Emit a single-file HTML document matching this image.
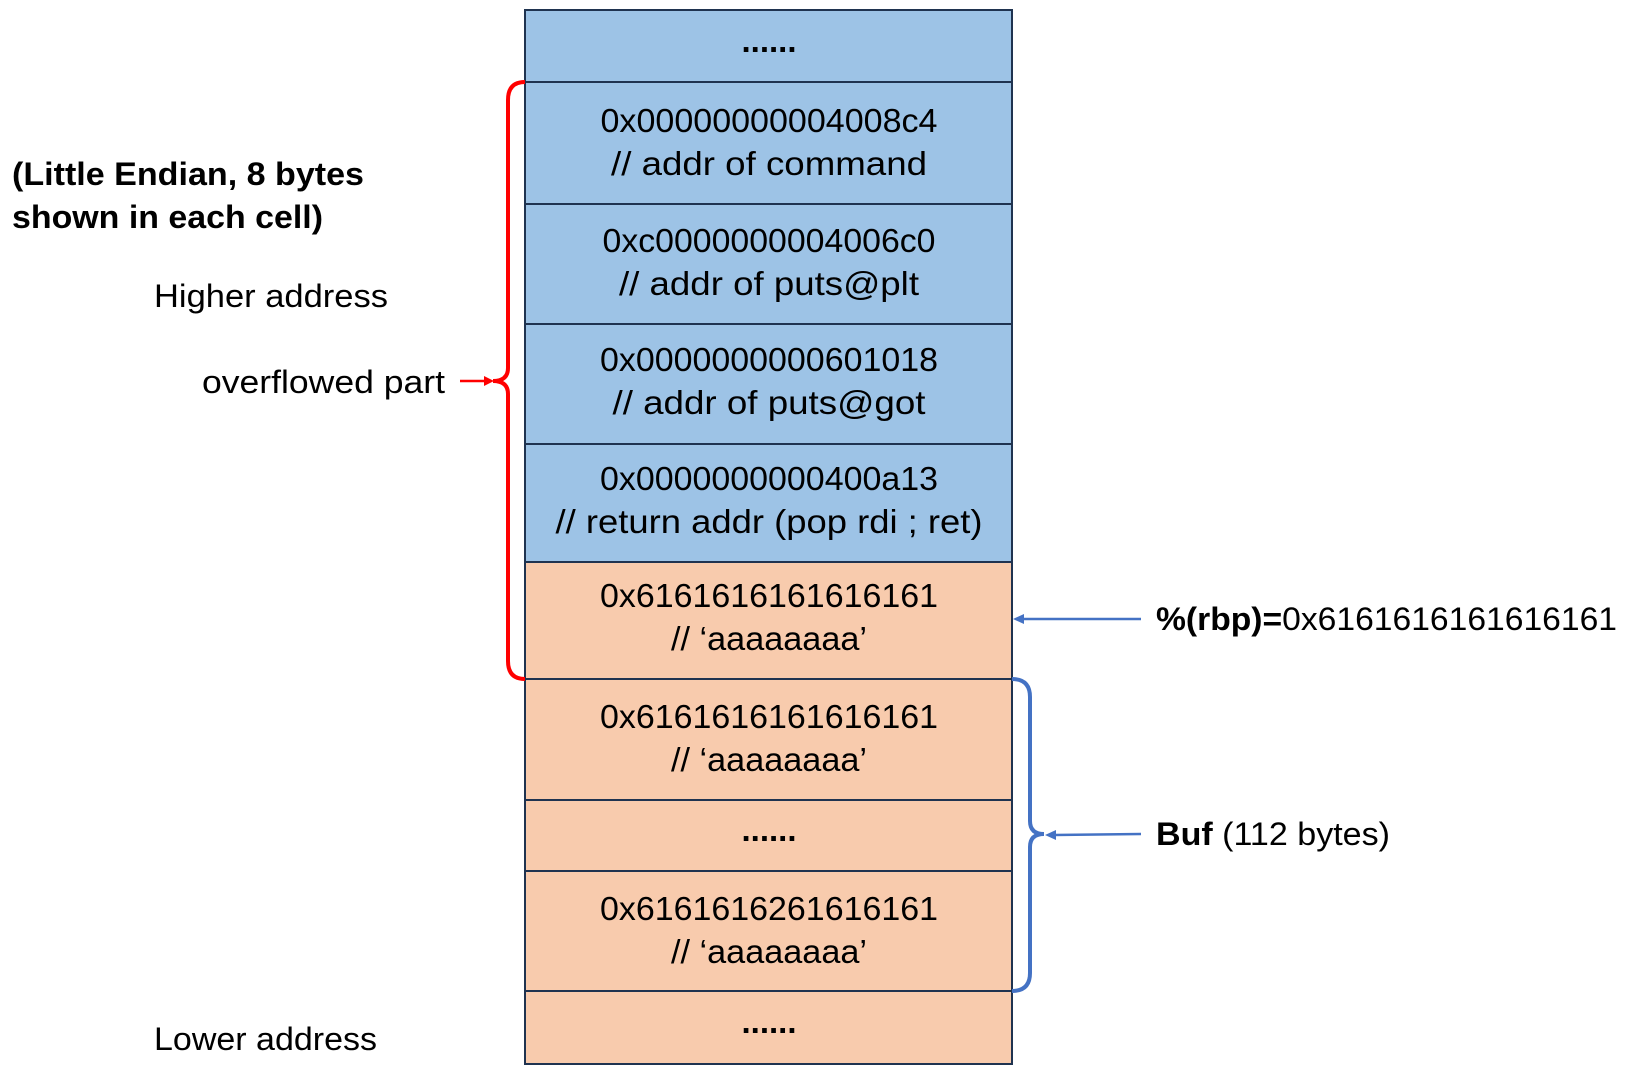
<!DOCTYPE html>
<html><head><meta charset="utf-8"><style>
body{margin:0;width:1625px;height:1080px;background:#fff;overflow:hidden;position:relative;font-family:"Liberation Sans","Noto Sans CJK SC",sans-serif;}
</style></head><body>
<svg width="1625" height="1080" style="position:absolute;left:0;top:0" font-family="Liberation Sans, Noto Sans CJK SC, sans-serif">
<g stroke="#1f3350" stroke-width="2">
<rect x="525" y="10" width="487" height="72" fill="#9dc3e6"/>
<rect x="525" y="82" width="487" height="122" fill="#9dc3e6"/>
<rect x="525" y="204" width="487" height="120" fill="#9dc3e6"/>
<rect x="525" y="324" width="487" height="120" fill="#9dc3e6"/>
<rect x="525" y="444" width="487" height="118" fill="#9dc3e6"/>
<rect x="525" y="562" width="487" height="117" fill="#f8cbad"/>
<rect x="525" y="679" width="487" height="121" fill="#f8cbad"/>
<rect x="525" y="800" width="487" height="71" fill="#f8cbad"/>
<rect x="525" y="871" width="487" height="120" fill="#f8cbad"/>
<rect x="525" y="991" width="487" height="73" fill="#f8cbad"/>
</g>
<g font-size="33" text-anchor="middle" fill="#000" lengthAdjust="spacingAndGlyphs">
<text x="769" y="52" font-weight="bold">......</text>
<text x="769" y="132" textLength="337" lengthAdjust="spacingAndGlyphs">0x00000000004008c4</text>
<text x="769" y="175" textLength="316" lengthAdjust="spacingAndGlyphs">// addr of command</text>
<text x="769" y="252" textLength="333" lengthAdjust="spacingAndGlyphs">0xc0000000004006c0</text>
<text x="769" y="295" textLength="300" lengthAdjust="spacingAndGlyphs">// addr of puts@plt</text>
<text x="769" y="371" textLength="338" lengthAdjust="spacingAndGlyphs">0x0000000000601018</text>
<text x="769" y="414" textLength="313" lengthAdjust="spacingAndGlyphs">// addr of puts@got</text>
<text x="769" y="490" textLength="338" lengthAdjust="spacingAndGlyphs">0x0000000000400a13</text>
<text x="769" y="533" textLength="427" lengthAdjust="spacingAndGlyphs">// return addr (pop rdi ; ret)</text>
<text x="769" y="607" textLength="338" lengthAdjust="spacingAndGlyphs">0x6161616161616161</text>
<text x="769" y="650" textLength="196" lengthAdjust="spacingAndGlyphs">// ‘aaaaaaaa’</text>
<text x="769" y="728" textLength="338" lengthAdjust="spacingAndGlyphs">0x6161616161616161</text>
<text x="769" y="771" textLength="196" lengthAdjust="spacingAndGlyphs">// ‘aaaaaaaa’</text>
<text x="769" y="841" font-weight="bold">......</text>
<text x="769" y="920" textLength="338" lengthAdjust="spacingAndGlyphs">0x6161616261616161</text>
<text x="769" y="963" textLength="196" lengthAdjust="spacingAndGlyphs">// ‘aaaaaaaa’</text>
<text x="769" y="1033" font-weight="bold">......</text>
</g>
<path d="M525 82 Q508 82 508 100 L508 368 Q508 381 493 381 Q508 381 508 394 L508 661 Q508 679 525 679" fill="none" stroke="#ff0000" stroke-width="4"/>
<line x1="460" y1="381" x2="486" y2="381" stroke="#ff0000" stroke-width="2.5"/>
<polygon points="494,381 484,376 484,386" fill="#ff0000"/>
<path d="M1012 679 Q1030 679 1030 697 L1030 821 Q1030 834 1044 834 Q1030 834 1030 847 L1030 973 Q1030 991 1012 991" fill="none" stroke="#4472c4" stroke-width="4"/>
<line x1="1141" y1="619" x2="1022" y2="619" stroke="#4472c4" stroke-width="2.5"/>
<polygon points="1013,619 1024,614 1024,624" fill="#4472c4"/>
<line x1="1141" y1="834" x2="1054" y2="835" stroke="#4472c4" stroke-width="2.5"/>
<polygon points="1045,835 1056,830 1056,840" fill="#4472c4"/>
<g font-size="32" fill="#000">
<text x="12" y="185" font-weight="bold" textLength="352" lengthAdjust="spacingAndGlyphs">(Little Endian, 8 bytes</text>
<text x="12" y="228" font-weight="bold" textLength="311" lengthAdjust="spacingAndGlyphs">shown in each cell)</text>
<text x="154" y="307" textLength="234" lengthAdjust="spacingAndGlyphs">Higher address</text>
<text x="202" y="393" textLength="243" lengthAdjust="spacingAndGlyphs">overflowed part</text>
<text x="154" y="1050" textLength="223" lengthAdjust="spacingAndGlyphs">Lower address</text>
<text x="1156" y="630" textLength="461" lengthAdjust="spacingAndGlyphs"><tspan font-weight="bold">%(rbp)=</tspan>0x6161616161616161</text>
<text x="1156" y="845" textLength="234" lengthAdjust="spacingAndGlyphs"><tspan font-weight="bold">Buf</tspan> (112 bytes)</text>
</g>
</svg>
</body></html>
